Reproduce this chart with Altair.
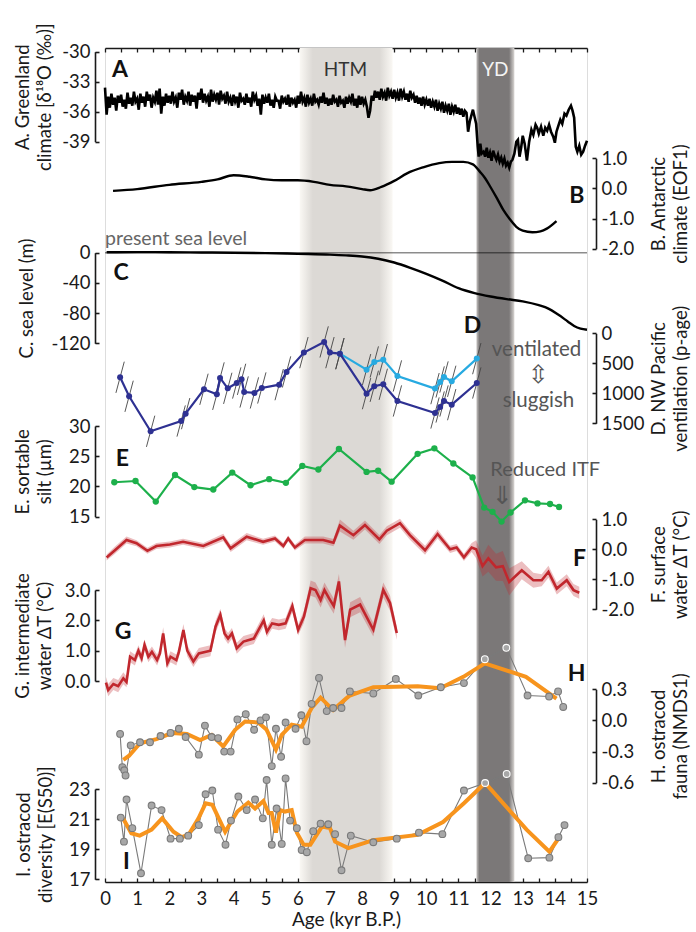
import altair as alt
import pandas as pd

FONT = "Lato"
INK = "#1a1a1a"
BEIGE = "#faf8f4"

# ---------------- A. Greenland d18O ----------------
A_age = [
 0.00,0.05,0.10,0.15,0.20,0.25,0.30,0.35,0.40,0.45,0.50,0.55,0.60,0.65,0.70,0.75,0.80,0.85,0.90,0.95,
 1.00,1.05,1.10,1.15,1.20,1.25,1.30,1.35,1.40,1.45,1.50,1.55,1.60,1.65,1.70,1.75,1.80,1.85,1.90,1.95,
 2.00,2.05,2.10,2.15,2.20,2.25,2.30,2.35,2.40,2.45,2.50,2.55,2.60,2.65,2.70,2.75,2.80,2.85,2.90,2.95,
 3.00,3.05,3.10,3.15,3.20,3.25,3.30,3.35,3.40,3.45,3.50,3.55,3.60,3.65,3.70,3.75,3.80,3.85,3.90,3.95,
 4.00,4.05,4.10,4.15,4.20,4.25,4.30,4.35,4.40,4.45,4.50,4.55,4.60,4.65,4.70,4.75,4.80,4.85,4.90,4.95,
 5.00,5.05,5.10,5.15,5.20,5.25,5.30,5.35,5.40,5.45,5.50,5.55,5.60,5.65,5.70,5.75,5.80,5.85,5.90,5.95,
 6.00,6.05,6.10,6.15,6.20,6.25,6.30,6.35,6.40,6.45,6.50,6.55,6.60,6.65,6.70,6.75,6.80,6.85,6.90,6.95,
 7.00,7.05,7.10,7.15,7.20,7.25,7.30,7.35,7.40,7.45,7.50,7.55,7.60,7.65,7.70,7.75,7.80,7.85,7.90,7.95,
 8.00,8.05,8.10,8.15,8.20,8.25,8.30,8.35,8.40,8.45,8.50,8.55,8.60,8.65,8.70,8.75,8.80,8.85,8.90,8.95,
 9.00,9.05,9.10,9.15,9.20,9.25,9.30,9.35,9.40,9.45,9.50,9.55,9.60,9.65,9.70,9.75,9.80,9.85,9.90,9.95,
 10.00,10.05,10.10,10.15,10.20,10.25,10.30,10.35,10.40,10.45,10.50,10.55,10.60,10.65,10.70,10.75,10.80,10.85,10.90,10.95,
 11.00,11.05,11.10,11.15,11.20,11.25,11.30,11.35,11.40,11.45,11.50,11.55,
 11.60,11.63,11.68,11.72,11.78,11.83,11.88,11.93,11.98,12.03,12.08,12.13,12.18,12.23,12.28,12.33,12.38,12.43,12.48,12.53,
 12.58,12.63,12.68,12.74,12.80,12.85,12.90,12.95,13.00,13.06,13.13,13.20,13.27,13.33,13.40,13.45,13.50,13.57,13.64,13.70,
 13.76,13.82,13.88,13.95,14.00,14.05,14.10,14.17,14.23,14.30,14.36,14.43,14.50,14.55,14.60,14.65,14.70,14.76,14.82,14.88,
 14.94,15.00]
A_val = [
 -33.6,-36.3,-34.5,-35.6,-34.2,-35.3,-34.6,-35.9,-34.4,-35.1,-34.3,-35.5,-34.8,-35.7,-34.1,-35.2,-34.6,-35.4,-34.0,-35.0,
 -34.7,-35.8,-34.2,-35.1,-34.5,-35.5,-34.0,-34.9,-34.3,-35.6,-34.6,-35.0,-33.9,-35.3,-33.7,-36.2,-34.5,-35.4,-34.2,-35.1,
 -34.4,-35.2,-34.0,-35.0,-34.6,-35.6,-34.1,-34.8,-33.8,-35.3,-34.5,-34.9,-34.0,-35.4,-34.3,-35.0,-34.4,-35.7,-34.1,-34.8,
 -33.7,-35.1,-34.2,-34.9,-34.5,-35.5,-33.8,-35.0,-34.3,-34.8,-34.1,-35.3,-33.9,-34.7,-34.4,-35.2,-34.0,-35.0,-34.6,-35.4,
 -34.3,-35.0,-34.5,-35.6,-34.1,-34.9,-34.7,-35.3,-34.2,-35.1,-34.6,-35.5,-34.0,-34.8,-34.4,-35.4,-34.7,-36.3,-34.3,-35.2,
 -34.6,-35.1,-34.2,-35.4,-34.8,-35.6,-34.5,-34.9,-34.9,-35.7,-34.4,-35.0,-34.7,-35.3,-34.3,-35.5,-34.6,-35.1,-34.8,-35.6,
 -34.4,-35.2,-34.0,-35.0,-34.6,-35.5,-34.3,-35.1,-34.7,-35.4,-34.2,-35.0,-34.8,-35.3,-34.5,-35.1,-34.1,-35.2,-34.6,-35.4,
 -34.7,-35.3,-34.3,-35.0,-34.8,-35.5,-34.4,-35.1,-34.9,-35.6,-34.5,-35.2,-34.6,-35.0,-34.2,-35.4,-34.7,-35.6,-34.4,-35.3,
 -34.5,-35.2,-34.8,-35.5,-36.6,-35.9,-34.4,-34.9,-33.9,-34.6,-34.0,-34.8,-33.7,-34.5,-34.1,-34.9,-33.6,-34.4,-34.0,-34.7,
 -33.8,-34.6,-34.1,-34.9,-33.7,-34.5,-34.0,-34.8,-34.2,-35.0,-33.9,-34.6,-34.3,-35.1,-34.4,-35.2,-34.6,-35.4,-34.5,-35.3,
 -34.8,-35.4,-34.7,-35.6,-35.0,-35.5,-34.8,-35.9,-35.2,-35.7,-35.0,-36.1,-35.4,-35.9,-35.2,-36.3,-35.5,-36.0,-35.3,-36.2,
 -35.6,-36.3,-35.7,-36.5,-35.9,-36.1,-38.0,-37.0,-36.4,-35.8,-36.5,-37.2,
 -39.5,-40.5,-39.2,-40.2,-40.0,-40.5,-39.6,-40.6,-40.1,-40.9,-39.9,-40.4,-40.8,-40.3,-41.0,-40.6,-41.2,-40.7,-41.4,-41.1,
 -41.6,-41.0,-40.8,-40.2,-39.0,-38.8,-40.5,-39.6,-38.4,-39.2,-40.9,-39.0,-37.8,-38.3,-37.3,-37.6,-38.2,-37.5,-38.4,-37.6,
 -37.9,-37.3,-38.0,-38.5,-39.1,-38.0,-37.5,-36.8,-37.2,-36.2,-36.4,-35.8,-35.4,-35.9,-36.6,-39.5,-40.0,-39.4,-40.3,-40.0,
 -39.4,-38.9]

# ---------------- B. Antarctic EOF1 ----------------
B_age = [0.25,1.0,2.0,3.0,3.5,4.0,4.5,5.0,5.5,6.0,6.5,7.0,7.5,8.0,8.25,8.6,9.0,9.4,9.9,10.4,
         10.8,11.15,11.45,11.67,11.83,12.0,12.2,12.4,12.6,12.8,13.0,13.3,13.55,13.75,14.05]
B_val = [-0.08,-0.02,0.12,0.22,0.30,0.44,0.39,0.30,0.27,0.27,0.22,0.12,0.07,-0.02,-0.06,0.05,0.25,0.50,0.70,0.84,
         0.88,0.88,0.80,0.55,0.34,0.04,-0.33,-0.72,-1.02,-1.27,-1.40,-1.45,-1.42,-1.33,-1.08]

# ---------------- C. sea level ----------------
C_age = [0.05,1.0,2.0,3.0,4.0,5.0,6.0,7.0,7.5,8.0,8.5,9.0,9.5,10.0,10.5,11.0,11.5,12.0,12.5,13.0,
         13.5,13.8,14.1,14.4,14.6,14.8,15.0]
C_val = [0.5,0.8,0.6,0.3,0.0,-0.5,-1.5,-2.5,-3.5,-5,-8,-13,-20,-28,-37,-47,-53.5,-58,-61.5,-64.5,
         -69.5,-74,-82,-91,-97,-100.5,-102]

# ---------------- D. NW Pacific ventilation (p-age) ----------------
D1_age = [0.47,0.75,1.42,2.37,2.51,3.08,3.48,3.58,3.82,4.10,4.25,4.33,4.65,4.88,5.42,5.65,6.19,6.82,7.00,7.31,
          8.14,8.38,8.66,9.10,10.27,10.43,10.55,10.79,11.57]
D1_val = [733,1050,1633,1462,1339,933,1017,744,917,828,767,978,994,911,856,644,322,144,322,339,
          1006,883,850,1128,1328,1228,1128,1189,828]
D2_age = [7.31,8.14,8.38,8.66,9.10,10.27,10.43,10.55,10.79,11.57]
D2_val = [339,606,478,439,711,922,811,728,800,422]
D_AGE_ERR = 0.13
D_PAGE_ERR = 260

# ---------------- E. sortable silt ----------------
E_age = [0.29,0.95,1.58,2.18,2.78,3.37,3.96,4.53,5.11,5.63,6.14,6.64,7.28,8.14,8.50,8.92,9.73,10.25,10.84,11.44,
         11.80,12.06,12.34,12.62,13.07,13.46,13.85,14.13]
E_val = [20.7,20.9,17.5,21.9,19.9,19.5,22.3,20.2,21.2,20.6,23.4,22.8,26.2,22.4,22.6,20.8,25.4,26.3,23.8,21.5,
         16.5,15.8,14.2,15.7,17.7,17.2,17.1,16.6]

# ---------------- F. surface water dT ----------------
F_age = [0.05,0.31,0.67,0.98,1.32,1.60,2.02,2.43,3.06,3.68,3.91,4.41,4.92,5.29,5.55,5.70,5.91,6.22,6.79,7.11,
         7.31,7.73,8.09,8.54,8.77,9.18,9.49,9.96,10.35,10.74,10.94,11.17,11.41,11.55,11.75,11.93,12.17,12.38,12.58,12.97,
         13.33,13.59,13.80,14.06,14.37,14.58,14.76]
F_val = [-0.27,-0.03,0.31,0.20,-0.05,0.11,0.16,0.25,0.11,0.40,0.03,0.42,0.25,0.36,0.11,0.36,0.06,0.31,0.31,0.22,
         0.79,0.47,0.81,0.33,0.62,0.87,0.47,-0.03,0.51,0.00,0.06,-0.27,0.06,0.00,-0.56,-0.30,-0.60,-0.56,-1.09,-0.70,
         -1.03,-1.03,-0.75,-1.31,-1.03,-1.36,-1.45]
F_err = [0.10,0.12,0.12,0.10,0.10,0.10,0.10,0.10,0.10,0.12,0.12,0.12,0.10,0.10,0.10,0.10,0.10,0.12,0.12,0.12,
         0.20,0.15,0.15,0.15,0.15,0.15,0.15,0.15,0.15,0.12,0.12,0.12,0.15,0.30,0.35,0.45,0.45,0.50,0.45,0.30,
         0.25,0.20,0.20,0.20,0.20,0.20,0.20]

# ---------------- G. intermediate water dT ----------------
G_age = [0.03,0.10,0.26,0.41,0.57,0.67,0.78,0.93,1.04,1.14,1.23,1.35,1.46,1.62,1.71,1.81,1.94,2.04,2.22,2.30,
         2.44,2.56,2.75,2.92,3.28,3.44,3.59,3.72,3.83,3.95,4.10,4.31,4.63,4.94,5.04,5.20,5.41,5.62,5.83,6.01,
         6.19,6.40,6.55,6.71,6.83,6.97,7.12,7.28,7.47,7.63,7.94,8.35,8.66,8.87,9.08]
G_val = [-0.05,-0.30,-0.10,-0.17,0.09,-0.03,0.80,0.69,1.00,0.75,1.19,0.80,0.96,0.69,0.91,1.57,0.58,0.80,0.69,0.96,
         1.68,1.00,0.64,0.91,1.00,1.79,2.18,1.57,1.40,1.57,1.08,1.30,1.40,2.00,1.62,1.90,1.85,1.90,2.47,1.68,
         2.12,3.06,3.00,2.67,3.00,2.73,2.47,3.28,1.35,2.35,2.52,1.69,3.00,2.57,1.58]
G_err = [0.18,0.20,0.20,0.20,0.20,0.18,0.18,0.18,0.18,0.18,0.18,0.18,0.18,0.18,0.18,0.20,0.18,0.18,0.18,0.18,
         0.20,0.18,0.18,0.18,0.18,0.20,0.20,0.18,0.18,0.18,0.18,0.18,0.18,0.20,0.18,0.18,0.18,0.18,0.20,0.18,
         0.20,0.25,0.25,0.25,0.25,0.25,0.25,0.25,0.25,0.25,0.25,0.22,0.25,0.25,0.22]

# ---------------- H. ostracod fauna NMDS1 ----------------
H_age = [0.47,0.54,0.60,0.64,0.80,1.09,1.40,1.73,2.04,2.30,2.51,2.92,3.11,3.32,3.52,3.71,3.91,4.12,4.38,4.64,
         4.84,5.01,5.19,5.32,5.48,5.62,5.93,6.11,6.27,6.43,6.66,6.90,7.10,7.36,7.62,8.35,9.05,9.75,10.45,11.17,
         11.82,12.49,13.15,13.82,14.10,14.26]
H_val = [-0.13,-0.45,-0.48,-0.53,-0.24,-0.21,-0.21,-0.15,-0.12,-0.08,-0.16,-0.33,-0.05,-0.16,-0.17,-0.30,-0.30,0.01,0.06,-0.09,
         0.00,0.03,-0.44,-0.08,-0.35,-0.02,-0.08,0.05,-0.20,0.16,0.41,0.09,0.12,0.12,0.28,0.26,0.40,0.24,0.32,0.36,
         0.59,0.70,0.24,0.23,0.28,0.13]
Hs_age = [0.57,0.75,1.09,1.60,2.10,2.55,2.96,3.32,3.68,4.05,4.36,4.77,5.03,5.32,5.50,5.81,6.12,6.43,6.71,7.10,
          7.50,7.62,8.35,9.73,10.43,11.15,11.82,13.10,14.05]
Hs_val = [-0.38,-0.34,-0.22,-0.18,-0.12,-0.13,-0.19,-0.14,-0.25,-0.09,-0.01,-0.02,-0.09,-0.28,-0.14,-0.04,-0.06,0.12,0.22,0.10,
          0.21,0.24,0.32,0.33,0.31,0.42,0.55,0.42,0.21]

# ---------------- I. ostracod diversity E(S50) ----------------
I_age = [0.49,0.59,0.67,0.85,1.12,1.45,1.76,2.04,2.33,2.59,2.92,3.13,3.34,3.52,3.75,3.92,4.15,4.41,4.67,4.91,
         5.03,5.19,5.34,5.50,5.62,5.76,5.97,6.12,6.28,6.48,6.71,6.95,7.16,7.36,7.65,8.35,9.08,9.77,10.50,11.17,
         11.83,12.50,13.17,13.83,14.11,14.30]
I_val = [21.1,19.5,22.3,20.4,17.4,21.9,21.6,19.7,19.7,19.9,20.6,22.65,22.9,20.3,19.3,20.9,22.5,21.6,22.3,21.05,
         23.6,19.3,21.7,19.35,23.7,20.9,20.4,18.95,18.8,20.2,20.7,20.66,20.0,17.6,19.9,19.46,19.7,20.1,20.0,22.9,
         23.4,24.0,18.4,18.44,19.8,20.6]
Is_age = [0.56,0.82,1.08,1.45,1.78,2.13,2.39,2.60,2.91,3.13,3.34,3.74,4.12,4.46,4.67,4.93,5.09,5.19,5.32,5.45,
          5.60,5.81,5.97,6.18,6.39,6.75,7.00,7.16,7.57,8.35,9.73,10.52,11.17,11.83,13.12,13.83,14.11]
Is_val = [21.05,20.06,19.9,20.3,21.05,20.16,19.8,19.96,21.05,22.05,21.95,20.16,21.5,22.1,21.7,22.2,21.4,21.4,20.1,21.6,
          21.5,21.6,20.1,19.3,19.3,20.5,20.4,19.5,19.07,19.6,19.95,20.8,22.05,23.4,20.3,18.84,19.7]

# ---------------- climate intervals ----------------
HTM_span = [6.06, 8.95]
YD_span = [11.56, 12.74]
X_TICKS = [0, 0.5, 1, 1.5, 2, 2.5, 3, 3.5, 4, 4.5, 5, 5.5, 6, 6.5, 7, 7.5, 8, 8.5, 9, 9.5,
           10, 10.5, 11, 11.5, 12, 12.5, 13, 13.5, 14, 14.5, 15]
X_LABELS = list(range(16))

# ---------------- layout ----------------
W, H = 482, 834
XS = alt.Scale(domain=[0, 15], nice=False, zero=False)
OFF = {"left": 10, "right": 9}

DOM = {"A": [-39, -30], "B": [-2, 1], "C": [-120, 0], "D": [0, 1500], "E": [15, 30],
       "F": [-2, 1], "G": [0, 3], "H": [-0.6, 0.3], "I": [17, 23]}
RNG = {"A": [93.7, 3.7], "B": [200.8, 110.3], "C": [295.3, 204.7], "D": [285.3, 375.3],
       "E": [468.7, 378], "F": [561.3, 471.3], "G": [633, 542], "H": [734.7, 641.3], "I": [831.3, 741]}
ORIENT = {"A": "left", "B": "right", "C": "left", "D": "right", "E": "left",
          "F": "right", "G": "left", "H": "right", "I": "left"}
TICKV = {"A": [-30, -33, -36, -39], "B": [1, 0, -1, -2], "C": [0, -40, -80, -120], "D": [0, 500, 1000, 1500],
         "E": [30, 25, 20, 15], "F": [1, 0, -1, -2], "G": [3, 2, 1, 0], "H": [0.3, 0, -0.3, -0.6], "I": [23, 21, 19, 17]}
FMT = {"A": "d", "B": ".1f", "C": "d", "D": "d", "E": "d", "F": ".1f", "G": ".1f", "H": ".1f", "I": "d"}
TITLE = {"A": ["A. Greenland", "climate [δ¹⁸O (‰)]"], "B": ["B. Antarctic", "climate (EOF1)"],
         "C": "C. sea level (m)", "D": ["D. NW Pacific", "ventilation (p-age)"],
         "E": ["E. sortable", "silt (µm)"], "F": ["F. surface", "water ΔT (°C)"],
         "G": ["G. intermediate", "water  ΔT (°C)"], "H": ["H. ostracod", "fauna (NMDS1)"],
         "I": ["I. ostracod", "diversity  [E(S50)]"]}
TITLEX = {"A": -63, "C": -59, "E": -63, "G": -63, "I": -62, "B": 53, "D": 53, "F": 53, "H": 53}


def ysc(k):
    return alt.Scale(domain=DOM[k], range=RNG[k], nice=False, zero=False)


def main_axis(k):
    o = ORIENT[k]
    kw = dict(orient=o, values=TICKV[k], format=FMT[k], title=TITLE[k], offset=OFF[o],
              ticks=False, tickSize=0, labelPadding=5, domain=True, domainColor=INK, domainWidth=1.6,
              grid=False, labelFont=FONT, labelFontSize=18.5, labelColor=INK,
              labelExpr="replace(datum.label, '\u2212', '-')",
              titleFont=FONT, titleFontSize=18.5, titleFontWeight="normal", titleColor=INK,
              titleX=TITLEX[k], titleAngle=270, titleAlign="center", titleLineHeight=22)
    kw["titleBaseline"] = "bottom" if o == "left" else "top"
    return alt.Axis(**kw)


def tick_axis(k):
    o = ORIENT[k]
    return alt.Axis(orient=o, values=TICKV[k], offset=OFF[o] - 4, domain=False, labels=False,
                    ticks=True, tickSize=4, tickColor=INK, tickWidth=1.6, title=None, grid=False)


def X(field="age"):
    return alt.X(f"{field}:Q", scale=XS, axis=None)


def Y(k, field="v", axis=None):
    return alt.Y(f"{field}:Q", scale=ysc(k), axis=axis)


def label(k, age, v, text, **mk):
    df = pd.DataFrame({"age": [age], "v": [v], "t": [text]})
    style = dict(font=FONT, fontSize=19, color=INK, align="center", baseline="middle")
    style.update(mk)
    return alt.Chart(df).mark_text(**style).encode(x=X(), y=Y(k), text="t:N")


def letter(k, age, v, text):
    return label(k, age, v, text, fontSize=23, fontWeight="bold", color="#111")


def axis_layer(k, axis, xaxis=None):
    df = pd.DataFrame({"age": [0, 15], "v": DOM[k]})
    return alt.Chart(df).mark_point(opacity=0, size=1).encode(
        x=alt.X("age:Q", scale=XS, axis=xaxis), y=Y(k, axis=axis))


# ---------------- background bands ----------------
grad_htm = {"gradient": "linear", "x1": 0, "x2": 1, "y1": 0, "y2": 0,
            "stops": [{"offset": 0, "color": BEIGE}, {"offset": 0.14, "color": "#dcd9d5"},
                      {"offset": 0.86, "color": "#dcd9d5"}, {"offset": 1, "color": BEIGE}]}
grad_yd = {"gradient": "linear", "x1": 0, "x2": 1, "y1": 0, "y2": 0,
           "stops": [{"offset": 0, "color": "#c4c1bf"}, {"offset": 0.08, "color": "#7b7878"},
                     {"offset": 0.86, "color": "#7b7878"}, {"offset": 1, "color": "#d9d6d3"}]}

band_htm = alt.Chart(pd.DataFrame({"s": [HTM_span[0]], "e": [HTM_span[1]]})).mark_rect(fill=grad_htm).encode(
    x=alt.X("s:Q", scale=XS, axis=alt.Axis(
        orient="bottom", values=X_LABELS, format="d", ticks=False, tickSize=0, labelPadding=7,
        domain=True, domainColor=INK, domainWidth=1.6, labelFlush=False, labelOverlap=False,
        labelFont=FONT, labelFontSize=18.5, labelColor=INK, grid=False,
        title="Age (kyr B.P.)", titleFont=FONT, titleFontSize=19, titleFontWeight="normal",
        titleColor=INK, titlePadding=3)),
    x2="e:Q")
band_yd = alt.Chart(pd.DataFrame({"s": [YD_span[0]], "e": [YD_span[1]]})).mark_rect(fill=grad_yd).encode(
    x=alt.X("s:Q", scale=XS, axis=alt.Axis(orient="top", labels=False, ticks=False, domain=True,
                                           domainColor=INK, domainWidth=1.6, title=None, grid=False)),
    x2="e:Q")

xtick_bottom = alt.Axis(orient="bottom", values=X_TICKS, offset=-4, domain=False, labels=False, ticks=True,
                        tickSize=4, tickColor=INK, tickWidth=1.3, title=None, grid=False)
xtick_top = alt.Axis(orient="top", values=X_TICKS, offset=-4, domain=False, labels=False, ticks=True,
                     tickSize=4, tickColor=INK, tickWidth=1.3, title=None, grid=False)

# ---------------- panels ----------------
dfA = pd.DataFrame({"age": A_age, "v": A_val})
pA = alt.layer(
    alt.Chart(dfA).mark_line(color="black", strokeWidth=2.6).encode(x=X(), y=Y("A")),
    letter("A", 0.47, -31.8, "A"),
    label("A", 7.48, -31.8, "HTM", color="#333"),
    label("A", 12.15, -31.8, "YD", color="#f4f4f4"),
)

dfB = pd.DataFrame({"age": B_age, "v": B_val})
pB = alt.layer(
    alt.Chart(dfB).mark_line(color="black", strokeWidth=2.4, interpolate="monotone").encode(x=X(), y=Y("B")),
    letter("B", 14.68, -0.24, "B"),
)

dfC = pd.DataFrame({"age": C_age, "v": C_val})
pC = alt.layer(
    alt.Chart(pd.DataFrame({"v": [0]})).mark_rule(color="black", opacity=0.45, strokeWidth=1.5).encode(y=Y("C")),
    alt.Chart(dfC).mark_line(color="black", strokeWidth=2.4, interpolate="monotone").encode(x=X(), y=Y("C")),
    letter("C", 0.5, -26.4, "C"),
    label("C", 0.0, 10.3, "present sea level", align="left", baseline="alphabetic", color="#666", fontSize=19.5),
)

dfD1 = pd.DataFrame({"age": D1_age, "v": D1_val})
dfD2 = pd.DataFrame({"age": D2_age, "v": D2_val})
dfDe = pd.concat([dfD1, dfD2], ignore_index=True)
dfDe["x0"] = dfDe["age"] - D_AGE_ERR
dfDe["x1"] = dfDe["age"] + D_AGE_ERR
dfDe["y0"] = dfDe["v"] + D_PAGE_ERR
dfDe["y1"] = dfDe["v"] - D_PAGE_ERR
DARK, LIGHT = "#2e3192", "#27aae1"
pD = alt.layer(
    alt.Chart(dfDe).mark_rule(color="#444", strokeWidth=0.9).encode(
        x=X("x0"), x2="x1:Q", y=Y("D", "y0"), y2="y1:Q"),
    alt.Chart(dfD2).mark_line(color=LIGHT, strokeWidth=2.2).encode(x=X(), y=Y("D")),
    alt.Chart(dfD2).mark_circle(color=LIGHT, size=36, opacity=1).encode(x=X(), y=Y("D")),
    alt.Chart(dfD1).mark_line(color=DARK, strokeWidth=2.2).encode(x=X(), y=Y("D")),
    alt.Chart(dfD1).mark_circle(color=DARK, size=36, opacity=1).encode(x=X(), y=Y("D")),
    letter("D", 11.44, -130, "D"),
    label("D", 13.43, 272, "ventilated", color="#555", fontSize=20.5),
    label("D", 13.48, 700, "⇳", color="#555", fontSize=25, font="DejaVu Sans"),
    label("D", 13.49, 1125, "sluggish", color="#555", fontSize=20.5),
)

GREEN = "#1db04b"
dfE = pd.DataFrame({"age": E_age, "v": E_val})
pE = alt.layer(
    alt.Chart(dfE).mark_line(color=GREEN, strokeWidth=2.2).encode(x=X(), y=Y("E")),
    alt.Chart(dfE).mark_circle(color=GREEN, size=40, opacity=1).encode(x=X(), y=Y("E")),
    letter("E", 0.54, 24.46, "E"),
    label("E", 13.7, 22.73, "Reduced ITF", color="#555", fontSize=20),
    label("E", 12.36, 18.5, "⇓", color="#555", fontSize=25, font="DejaVu Sans"),
)

RED = "#c1272d"
dfF = pd.DataFrame({"age": F_age, "v": F_val, "e": F_err})
dfF["lo"] = dfF["v"] - dfF["e"]
dfF["hi"] = dfF["v"] + dfF["e"]
pF = alt.layer(
    alt.Chart(dfF).mark_area(color=RED, opacity=0.3).encode(x=X(), y=Y("F", "lo"), y2="hi:Q"),
    alt.Chart(dfF).mark_line(color=RED, strokeWidth=2.6).encode(x=X(), y=Y("F")),
    letter("F", 14.77, -0.32, "F"),
)

dfG = pd.DataFrame({"age": G_age, "v": G_val, "e": G_err})
dfG["lo"] = dfG["v"] - dfG["e"]
dfG["hi"] = dfG["v"] + dfG["e"]
pG = alt.layer(
    alt.Chart(dfG).mark_area(color=RED, opacity=0.3).encode(x=X(), y=Y("G", "lo"), y2="hi:Q"),
    alt.Chart(dfG).mark_line(color=RED, strokeWidth=2.6).encode(x=X(), y=Y("G")),
    letter("G", 0.56, 1.62, "G"),
)

ORANGE = "#f7941d"
PTFILL = "#a7a7a7"
yd_test = f"datum.age > {YD_span[0]} && datum.age < {YD_span[1]}"
dfH = pd.DataFrame({"age": H_age, "v": H_val})
dfHs = pd.DataFrame({"age": Hs_age, "v": Hs_val})
pH = alt.layer(
    alt.Chart(dfH).mark_line(color="#7a7a7a", strokeWidth=1.1).encode(x=X(), y=Y("H")),
    alt.Chart(dfHs).mark_line(color=ORANGE, strokeWidth=4).encode(x=X(), y=Y("H")),
    alt.Chart(dfH).mark_circle(fill=PTFILL, size=46, opacity=1, strokeWidth=1.1).encode(
        x=X(), y=Y("H"), stroke=alt.condition(yd_test, alt.value("white"), alt.value("#7a7a7a"))),
    letter("H", 14.68, 0.443, "H"),
)

dfI = pd.DataFrame({"age": I_age, "v": I_val})
dfIs = pd.DataFrame({"age": Is_age, "v": Is_val})
pI = alt.layer(
    alt.Chart(dfI).mark_line(color="#7a7a7a", strokeWidth=1.1).encode(x=X(), y=Y("I")),
    alt.Chart(dfIs).mark_line(color=ORANGE, strokeWidth=4).encode(x=X(), y=Y("I")),
    alt.Chart(dfI).mark_circle(fill=PTFILL, size=46, opacity=1, strokeWidth=1.1).encode(
        x=X(), y=Y("I"), stroke=alt.condition(yd_test, alt.value("white"), alt.value("#7a7a7a"))),
    letter("I", 0.67, 18.12, "I"),
)

PANELS = ["A", "B", "C", "D", "E", "F", "G", "H", "I"]
axis_layers = []
for k in PANELS:
    axis_layers.append(axis_layer(k, main_axis(k)))
    xa = xtick_bottom if k == "A" else (xtick_top if k == "B" else None)
    axis_layers.append(axis_layer(k, tick_axis(k), xa))

layers = [band_htm, band_yd] + axis_layers + [pA, pB, pC, pD, pE, pF, pG, pH, pI]

chart = alt.layer(*layers).resolve_scale(y="independent").resolve_axis(x="independent", y="independent").properties(
    width=W, height=H,
    padding={"left": 105, "top": 48, "right": 696 - 105 - W, "bottom": 932 - 48 - H},
    autosize=alt.AutoSizeParams(type="none"),
).configure_view(fill=BEIGE, stroke=None).configure(background="white")

chart.save("out.html", embed_options={"renderer": "svg", "actions": False})
